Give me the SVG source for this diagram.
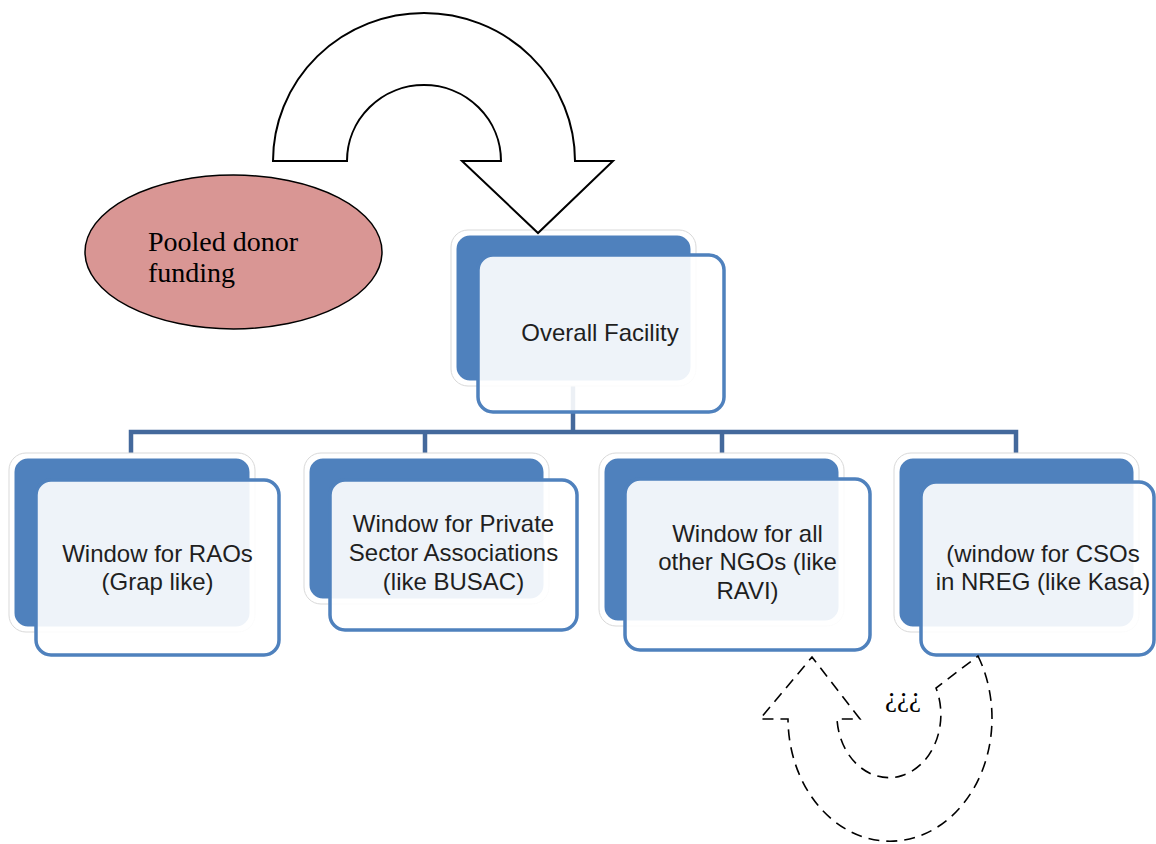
<svg xmlns="http://www.w3.org/2000/svg" width="1156" height="844" viewBox="0 0 1156 844">
<style>
.back{fill:#4f81bd;stroke:#ffffff;stroke-width:3}
.halo{fill:#ffffff;stroke:#d9d9d9;stroke-width:1}
.front{fill:#ffffff;fill-opacity:0.9;stroke:#4f81bd;stroke-width:3.5}
.lbl{font-family:"Liberation Sans",Arial,sans-serif;font-size:24px;fill:#1f1f1f;text-anchor:middle}
.conn{fill:none;stroke:#44699c;stroke-width:4.5}
.serif{font-family:"Liberation Serif","Times New Roman",serif;fill:#000}
</style>
<rect width="1156" height="844" fill="#ffffff"/>
<g id="connectors">
<path class="conn" d="M573,385 V432 M131,455 V432 H1016 V455 M425,432 V455 M722,432 V455"/>
</g>
<g id="pooled">
<ellipse cx="233.5" cy="252" rx="148.5" ry="77" fill="#d99694" stroke="#000" stroke-width="1.5"/>
<text class="serif" font-size="28" x="148" y="251">Pooled donor</text>
<text class="serif" font-size="28" x="148" y="282">funding</text>
</g>
<g id="overall">
<rect class="halo" x="451" y="230" width="245" height="156" rx="17"/>
<rect class="back" x="455" y="234" width="237" height="148" rx="15"/>
<rect class="front" x="478" y="255" width="246" height="157" rx="15"/>
<text class="lbl" x="600" y="341">Overall Facility</text>
</g>
<g id="raos">
<rect class="halo" x="9" y="453" width="246" height="179" rx="17"/>
<rect class="back" x="13" y="457" width="238" height="171" rx="15"/>
<rect class="front" x="36" y="480" width="243" height="175" rx="15"/>
<text class="lbl" x="157.5" y="562">Window for RAOs</text>
<text class="lbl" x="157.5" y="590">(Grap like)</text>
</g>
<g id="private">
<rect class="halo" x="304" y="453" width="245" height="151" rx="17"/>
<rect class="back" x="308" y="457" width="237" height="143" rx="15"/>
<rect class="front" x="330" y="480" width="247" height="150" rx="15"/>
<text class="lbl" x="453.5" y="532">Window for Private</text>
<text class="lbl" x="453.5" y="561">Sector Associations</text>
<text class="lbl" x="453.5" y="590">(like BUSAC)</text>
</g>
<g id="ngos">
<rect class="halo" x="599" y="453" width="245" height="173" rx="17"/>
<rect class="back" x="603" y="457" width="237" height="165" rx="15"/>
<rect class="front" x="625" y="479" width="245" height="171" rx="15"/>
<text class="lbl" x="747.5" y="542">Window for all</text>
<text class="lbl" x="747.5" y="570">other NGOs (like</text>
<text class="lbl" x="747.5" y="599">RAVI)</text>
</g>
<g id="csos">
<rect class="halo" x="894" y="453" width="245" height="179" rx="17"/>
<rect class="back" x="898" y="457" width="237" height="171" rx="15"/>
<rect class="front" x="921" y="482" width="233" height="173" rx="15"/>
<text class="lbl" x="1043" y="562">(window for CSOs</text>
<text class="lbl" x="1043" y="590">in NREG (like Kasa)</text>
</g>
<g id="top-arrow">
<path d="M273,161 A151,148 0 0 1 575,161 L613,161 L538,233 L462,161 L501,161 A77,76 0 0 0 347,161 Z" fill="#ffffff" stroke="#000" stroke-width="2" stroke-linejoin="miter"/>
</g>
<g id="dashed-arrow">
<path d="M978,656 A102,123 0 1 1 788,719 L760,719 L812,657 L860,719 L837,719 A52,63 0 1 0 936,688 Z" fill="none" stroke="#000" stroke-width="1.6" stroke-dasharray="11 7"/>
<text class="serif" font-size="27" x="885" y="706">¿¿¿</text>
</g>
</svg>
